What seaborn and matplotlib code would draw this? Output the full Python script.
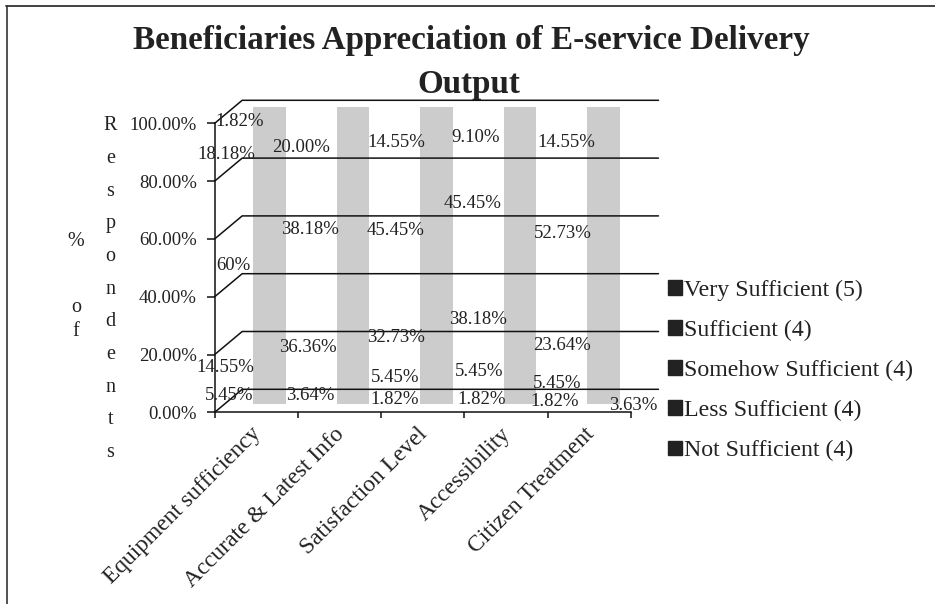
import numpy as np
import pandas as pd
import matplotlib
matplotlib.use("Agg")
import matplotlib.pyplot as plt
from matplotlib.patches import Patch
from matplotlib.transforms import ScaledTranslation
import seaborn as sns

W, H = 935, 604

categories = ["Equipment sufficiency", "Accurate & Latest Info", "Satisfaction Level",
              "Accessibility", "Citizen Treatment"]
not_sufficient = [5.45, 3.64, 1.82, 1.82, 3.63]
less_sufficient = [14.55, 1.82, 5.45, 5.45, 5.45]
somehow_sufficient = [60.00, 36.36, 32.73, 38.18, 23.64]
sufficient = [18.18, 38.18, 45.45, 45.45, 52.73]
very_sufficient = [1.82, 20.00, 14.55, 9.10, 14.55]
series_names = ["Not Sufficient (4)", "Less Sufficient (4)", "Somehow Sufficient (4)",
                "Sufficient (4)", "Very Sufficient (5)"]
y_ticks = [0, 20, 40, 60, 80, 100]

series_values = [not_sufficient, less_sufficient, somehow_sufficient, sufficient, very_sufficient]

# where the data labels sit, in picture pixels (they do not follow the bars in the original)
label_px = [
    [(229.5, 396), (310, 395), (482, 400), (554.5, 401), (633, 405)],
    [(225, 367), (395, 399), (395, 378), (479.5, 371), (557, 383)],
    [(233, 266), (308, 347), (396, 337), (478, 319), (562, 345)],
    [(226, 154), (310.5, 229), (396, 230), (472.5, 204), (563, 234)],
    [(240, 121), (301, 147), (396, 143), (475.5, 137), (566.5, 143)],
]

sns.set_theme(style="white")
plt.rcParams["font.family"] = ["Liberation Serif", "DejaVu Serif"]
INK = "#222222"


def px_box(left, top, right, bottom):
    return [left / W, 1 - bottom / H, (right - left) / W, (bottom - top) / H]


fig = plt.figure(figsize=(W / 100, H / 100), dpi=100)

# the grey bars, one stacked layer per series
ax_bar = fig.add_axes(px_box(214.7, 107, 659, 404))
df = pd.DataFrame({"cat": categories})
bottom = np.zeros(len(categories))
for name, vals in zip(series_names, series_values):
    df["val"] = vals
    sns.barplot(data=df, x="cat", y="val", color="#cccccc", saturation=1, width=0.395,
                bottom=bottom, errorbar=None, linewidth=0, edgecolor="none", ax=ax_bar)
    bottom = bottom + np.array(vals)
ax_bar.set_xlim((214.7 - 269.5) / 83.5, (659 - 269.5) / 83.5)
ax_bar.set_ylim(0, 100)
ax_bar.axis("off")

# the fake 3d walls and axes on top
ax = fig.add_axes(px_box(214.7, 123.3, 631, 412.3))
ax.patch.set_alpha(0)
ax.set_xlim(0, len(categories))
ax.set_ylim(0, 100)
depth_x = 27.5 / 83.3
depth_y = 23 / 2.89
for t in y_ticks:
    ax.plot([0, depth_x, len(categories) + depth_x], [t, t + depth_y, t + depth_y],
            color="#111111", lw=1.1, clip_on=False, solid_joinstyle="miter")
for s in ["top", "right"]:
    ax.spines[s].set_visible(False)
for s in ["left", "bottom"]:
    ax.spines[s].set_color("#111111")
    ax.spines[s].set_linewidth(1.1)
ax.set_yticks(y_ticks, [f"{t:.2f}%" for t in y_ticks], fontsize=13.5, color=INK)
ax.set_xticks(range(len(categories) + 1), [])
ax.set_xticks(np.arange(len(categories)) + 0.5, categories, minor=True, fontsize=16.8,
              color=INK, rotation=45, ha="right", rotation_mode="anchor")
ax.tick_params(axis="y", which="major", length=5.8, width=1.1, color="#111111", left=True, pad=7)
ax.tick_params(axis="x", which="major", length=4.3, width=1.1, color="#111111", bottom=True)
ax.tick_params(axis="x", which="minor", length=0, pad=8)
shift = ScaledTranslation(-6 / 100, 0, fig.dpi_scale_trans)
for lab in ax.get_xminorticklabels():
    lab.set_transform(lab.get_transform() + shift)

# data labels
for vals, spots in zip(series_values, label_px):
    for v, (px, py) in zip(vals, spots):
        txt = "60%" if v == 60 else f"{v:.2f}%"
        fig.text(px / W, 1 - py / H, txt, ha="center", va="center", fontsize=13.5, color=INK)

# title
fig.text(471 / W, 1 - 40 / H, "Beneficiaries Appreciation of E-service Delivery", ha="center", va="center",
         fontsize=23.9, fontweight="bold", color=INK)
fig.text(469 / W, 1 - 85 / H, "Output", ha="center", va="center",
         fontsize=23.9, fontweight="bold", color=INK)

# y title, letters stacked in two columns as in the original
letters_right = "Respondents"
for i, c in enumerate(letters_right):
    fig.text(110.5 / W, 1 - (125.7 + 32.7 * i) / H, c, ha="center", va="center", fontsize=14.5, color=INK)
for c, py in zip("%of", [241, 307, 331]):
    fig.text(76 / W, 1 - py / H, c, ha="center", va="center", fontsize=14.5, color=INK)

# legend, squares are dark in the original although the bars are grey
handles = [Patch(color=INK, label=n) for n in reversed(series_names)]
leg = fig.legend(handles=handles, loc="upper left", bbox_to_anchor=(668 / W, 1 - 280 / H), frameon=False,
                 fontsize=17.2, handlelength=0.57, handleheight=0.57, handletextpad=0.12,
                 labelspacing=0.79, borderpad=0, borderaxespad=0, labelcolor=INK)

# picture border
fig.add_artist(plt.Line2D([6.5 / W, 6.5 / W], [0, 1 - 5.5 / H], color="#444444", lw=1.3))
fig.add_artist(plt.Line2D([6 / W, 1], [1 - 5.5 / H, 1 - 5.5 / H], color="#333333", lw=1.3))

fig.savefig("out.png", dpi=100)
